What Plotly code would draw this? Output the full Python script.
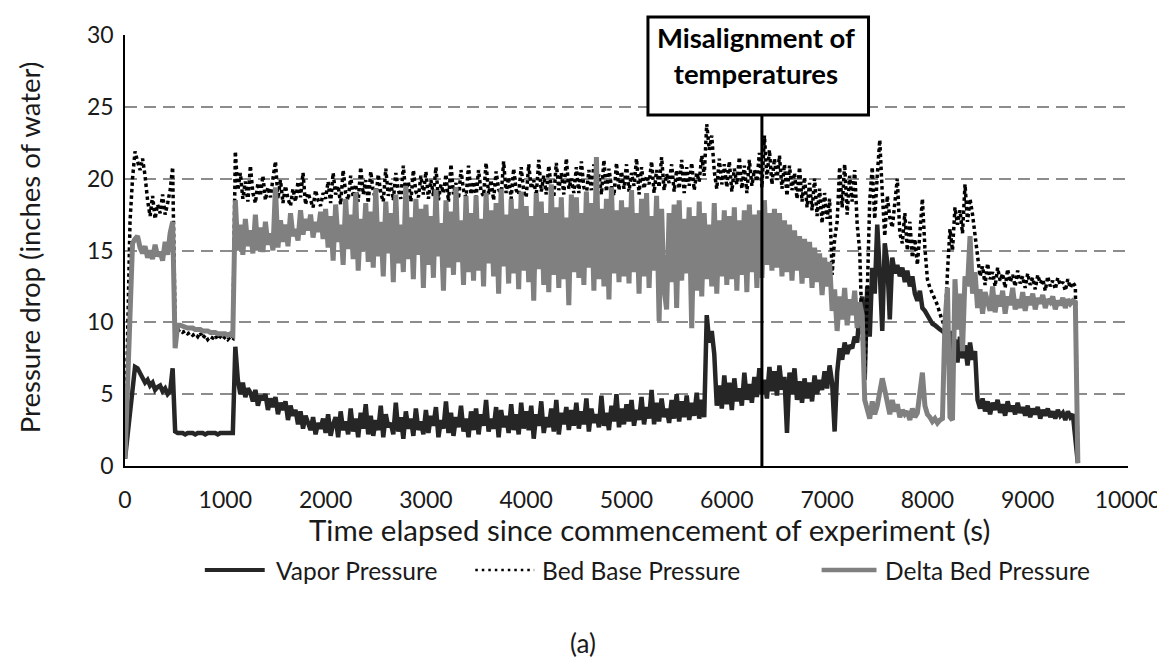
import plotly.graph_objects as go

# time axis (s), 25 s spacing from 0 to 9500
time_s = list(range(0, 9501, 25))

vapor_pressure = [
    0.5, 2.0, 3.5, 5.5, 6.9, 6.8, 6.5, 6.1, 5.8, 6.0,
    5.6, 5.8, 5.3, 5.5, 5.6, 5.2, 5.4, 5.0, 5.2, 6.8,
    2.4, 2.3, 2.3, 2.3, 2.2, 2.3, 2.3, 2.3, 2.2, 2.3,
    2.3, 2.3, 2.2, 2.3, 2.3, 2.3, 2.3, 2.2, 2.3, 2.3,
    2.3, 2.3, 2.3, 2.3, 8.3, 6.0, 5.0, 5.8, 4.8, 5.4,
    5.1, 4.5, 5.3, 4.2, 4.9, 4.6, 5.0, 3.9, 4.7, 4.1,
    4.8, 3.6, 4.4, 3.9, 4.5, 3.2, 4.2, 3.5, 3.9, 2.9,
    3.8, 2.6, 3.5, 3.0, 2.5, 3.4, 2.2, 3.0, 2.6, 3.3,
    2.3, 3.6, 2.1, 2.9, 3.4, 2.0, 3.8, 2.5, 3.1, 2.2,
    4.0, 2.4, 3.3, 2.0, 3.7, 2.6, 4.3, 2.2, 3.5, 2.1,
    3.2, 2.5, 4.2, 2.0, 3.6, 2.7, 3.0, 2.2, 4.4, 2.4,
    3.4, 1.9, 3.8, 2.6, 3.3, 2.1, 4.0, 2.5, 3.1, 2.2,
    3.9, 2.3, 3.5, 2.8, 4.1, 2.0, 3.2, 2.6, 4.5, 2.3,
    3.7, 2.1, 3.4, 2.7, 4.2, 2.4, 3.3, 2.0, 3.8, 2.5,
    4.0, 2.2, 3.6, 2.8, 4.6, 2.4, 3.3, 2.6, 4.1, 2.0,
    3.9, 2.7, 3.5, 2.3, 4.3, 2.5, 3.6, 2.2, 4.4, 2.6,
    3.8, 2.5, 4.2, 1.9, 3.6, 2.8, 4.5, 2.3, 3.4, 2.7,
    4.0, 2.4, 4.6, 2.2, 3.7, 2.9, 4.1, 2.5, 3.9, 2.8,
    4.4, 2.6, 3.8, 2.9, 4.7, 2.4, 4.0, 3.0, 3.6, 2.7,
    4.9, 2.8, 3.7, 2.5, 4.2, 3.1, 5.0, 2.7, 4.0, 2.9,
    4.3, 3.1, 4.6, 2.8, 3.9, 3.2, 4.8, 2.9, 4.1, 3.3,
    5.3, 2.9, 4.4, 3.1, 4.7, 3.4, 4.0, 3.0, 4.6, 3.3,
    5.0, 3.1, 4.5, 3.4, 4.9, 3.2, 4.4, 3.5, 5.1, 3.3,
    4.6, 3.4, 10.5, 8.6, 9.4, 7.8, 4.2, 5.6, 4.0, 6.3,
    4.3, 5.8, 3.9, 6.1, 4.5, 5.4, 4.2, 6.5, 4.6, 5.7,
    4.4, 6.2, 4.8, 6.8, 5.0, 6.0, 4.7, 6.9, 5.2, 6.6,
    4.9, 7.0, 5.3, 6.2, 2.3, 6.5, 5.0, 6.8, 4.6, 5.9,
    4.4, 6.1, 4.7, 5.8, 4.5, 6.3, 5.0, 6.0, 5.3, 6.6,
    5.4, 7.0, 5.8, 2.4, 6.5, 8.2, 7.4, 8.6, 7.8, 8.4,
    8.2, 9.0, 8.6, 10.8, 11.8, 6.0, 12.5, 9.0, 13.8, 12.0,
    16.8, 13.5, 9.4, 15.5, 14.2, 10.2, 14.5, 13.4, 14.0, 13.2,
    13.8, 12.8, 13.6, 12.5, 13.2, 12.0, 11.5, 12.2, 11.0, 10.8,
    10.5, 10.2, 9.9, 9.8, 9.6, 9.5, 9.4, 9.2, 7.6, 9.4,
    7.0, 8.8, 7.2, 9.0, 7.5, 8.4, 7.0, 8.6, 7.4, 8.0,
    4.6, 4.0, 4.7, 3.8, 4.5, 3.6, 4.4, 3.9, 4.6, 3.7,
    4.3, 3.5, 4.5, 3.8, 4.2, 3.6, 4.4, 3.7, 4.1, 3.5,
    4.2, 3.4, 4.0, 3.6, 4.1, 3.3, 3.9, 3.5, 4.0, 3.4,
    3.8, 3.3, 3.9, 3.5, 3.7, 3.2, 3.8, 3.4, 3.6, 2.0,
    0.2,
]

bed_base_pressure = [
    0.5, 10.0, 17.0, 20.0, 21.9, 21.2, 20.6, 21.4, 20.2, 18.5,
    17.4, 18.8, 17.2, 18.2, 17.6, 18.9, 17.5, 18.3, 19.2, 20.8,
    9.6, 9.4, 9.5, 9.3, 9.4, 9.2, 9.3, 9.1, 9.2, 9.0,
    9.3, 8.9, 9.1, 8.8, 9.0, 8.9, 9.1, 8.8, 9.0, 8.8,
    9.0, 8.8, 9.0, 8.9, 21.9, 19.2, 20.4, 18.6, 19.8, 18.4,
    20.9, 19.0, 18.3, 19.7, 18.8, 20.2, 18.5, 19.4, 18.7, 20.0,
    21.2, 18.6, 19.9, 18.3, 19.5, 18.6, 18.1, 19.3, 18.4, 19.8,
    18.7, 20.4, 18.2, 19.0, 18.4, 18.0, 19.2, 18.5, 18.1, 19.0,
    18.6, 19.8, 18.3, 20.4, 18.9, 19.5, 18.2, 20.6, 19.0, 18.5,
    20.2, 18.7, 19.6, 18.4, 20.8, 18.9, 19.9, 18.3, 20.5, 19.1,
    18.6, 20.3, 19.0, 18.4, 20.7, 18.8, 19.7, 18.5, 20.4, 19.2,
    18.6, 20.9, 18.9, 19.8, 18.4, 20.6, 19.1, 18.7, 20.2, 18.9,
    20.5, 18.6, 19.9, 18.8, 20.8, 18.5, 19.6, 19.0, 20.3, 18.4,
    21.0, 18.9, 19.7, 18.6, 20.6, 19.2, 18.7, 20.9, 18.9, 19.8,
    18.7, 20.6, 19.1, 18.8, 21.1, 18.9, 19.9, 18.5, 20.5, 19.3,
    18.8, 21.2, 19.0, 20.1, 18.6, 20.7, 19.2, 18.9, 20.8, 19.1,
    18.7, 21.0, 19.3, 19.9, 18.8, 21.3, 19.1, 20.2, 18.9, 20.9,
    19.4, 18.7, 21.1, 19.2, 20.4, 18.9, 21.4, 19.3, 20.0, 19.0,
    20.8, 19.0, 21.2, 19.4, 18.9, 20.6, 19.2, 21.0, 19.5, 20.3,
    18.9, 21.3, 19.1, 20.7, 19.4, 18.8, 21.1, 19.2, 20.5, 19.3,
    21.0, 19.1, 20.4, 19.5, 21.4, 18.9, 20.8, 19.3, 20.2, 19.6,
    21.2, 19.0, 20.6, 19.4, 21.5, 19.2, 20.3, 19.7, 21.0, 19.1,
    20.6, 19.3, 21.3, 19.0, 20.8, 19.5, 21.1, 19.2, 20.4, 19.8,
    21.6, 20.2, 23.8, 22.0, 23.0, 20.5, 19.3, 21.4, 19.6, 21.0,
    19.4, 21.2, 19.1, 20.7, 19.6, 21.5, 19.3, 20.9, 19.0, 21.3,
    19.5, 20.6, 19.8, 21.8, 19.4, 23.0, 20.0, 22.0, 19.6, 21.4,
    19.9, 21.6, 19.3, 21.0, 18.8, 20.9, 19.2, 20.4, 18.6, 20.8,
    18.4, 20.1, 18.0, 19.7, 17.8, 20.0, 17.4, 19.3, 16.9, 19.0,
    17.2, 18.6, 13.3, 15.8, 17.0, 20.8, 18.0, 21.0, 17.5, 20.2,
    18.4, 20.6, 16.8, 15.0, 9.0, 5.9, 12.0, 18.5, 20.8, 17.2,
    20.2, 22.7, 19.0, 16.0, 18.8, 17.3, 16.6, 18.5, 20.0, 16.2,
    15.5, 17.6, 15.0, 17.0, 14.5, 15.8, 14.0, 16.2, 18.6, 15.2,
    13.0, 12.4, 12.0, 11.6, 11.2, 10.6, 10.0, 9.6, 13.5, 16.5,
    15.0, 18.0, 16.8, 17.8, 16.2, 19.6, 17.0, 18.6, 17.5, 16.0,
    14.3, 13.2, 13.9, 12.6, 14.1, 13.0, 13.5, 12.5, 13.8, 12.9,
    13.4, 12.4, 13.7, 12.8, 13.3, 12.5, 13.6, 12.7, 13.2, 12.4,
    13.4, 12.6, 13.1, 12.3, 13.3, 12.7, 13.0, 12.2, 13.2, 12.5,
    12.9, 12.3, 13.1, 12.6, 12.8, 12.2, 13.0, 12.4, 12.8, 12.5,
    0.3,
]

delta_bed_pressure = [
    0.5, 6.0, 12.0, 15.5, 15.8, 16.0, 15.2, 14.8, 15.3, 14.5,
    15.0, 14.4, 15.4, 14.6, 14.9, 14.3, 15.6, 14.7, 16.2, 17.0,
    8.2, 9.8, 9.8, 9.7, 9.7, 9.6, 9.6, 9.6, 9.5, 9.5,
    9.5, 9.4, 9.4, 9.4, 9.3, 9.3, 9.3, 9.2, 9.2, 9.2,
    9.2, 9.1, 9.2, 9.1, 18.5, 15.0, 16.8, 14.7, 17.2, 15.3,
    16.4, 14.8, 17.5, 15.0, 16.6, 14.9, 17.0, 15.4, 16.2, 15.0,
    19.4, 15.2, 17.1, 15.6, 16.8, 15.3, 17.6, 16.0, 16.5, 15.7,
    17.8, 16.1, 17.2, 16.4, 17.5, 15.9, 17.0, 16.3, 17.7, 15.8,
    17.9, 15.2, 17.4, 14.3, 18.2, 15.6, 16.8, 14.0, 18.6, 15.1,
    17.5, 14.4, 19.0, 13.6, 17.2, 15.0, 18.3, 14.2, 17.7, 13.8,
    19.3, 14.6, 17.0, 13.2, 18.4, 14.8, 17.6, 12.8, 18.9, 14.1,
    16.8, 13.5, 19.5, 14.4, 17.3, 13.0, 18.6, 14.7, 17.9, 12.4,
    18.2, 14.0, 17.4, 13.1, 19.2, 14.6, 16.9, 12.2, 18.5, 13.8,
    17.7, 13.3, 19.4, 14.2, 17.1, 12.6, 18.8, 13.5, 17.6, 12.9,
    18.8, 13.6, 17.2, 12.5, 19.0, 14.1, 17.8, 13.2, 18.3, 12.0,
    19.3, 13.9, 17.5, 12.7, 18.6, 13.4, 17.9, 12.3, 19.1, 13.6,
    18.1, 12.8, 17.4, 11.5, 19.0, 13.7, 18.4, 12.6, 17.6, 12.1,
    19.6, 13.3, 18.0, 12.4, 18.7, 13.0, 17.3, 11.2, 18.9, 13.5,
    18.7, 13.1, 17.6, 12.6, 19.1, 13.8, 18.3, 12.2, 21.5, 13.0,
    17.9, 12.5, 18.6, 11.6, 19.4, 13.4, 17.8, 12.8, 18.5, 13.2,
    18.0, 12.7, 19.2, 13.5, 17.6, 12.0, 18.6, 13.2, 19.0, 12.4,
    17.4, 13.6, 18.8, 10.1, 17.9, 12.3, 10.9, 17.6, 12.8, 18.2,
    11.0, 18.5, 12.9, 17.2, 13.4, 18.0, 9.6, 17.4, 12.2, 18.4,
    11.8, 17.6, 13.0, 16.8, 12.5, 18.3, 12.0, 17.1, 13.2, 17.8,
    12.6, 17.4, 13.0, 18.0, 12.2, 17.1, 13.3, 17.8, 12.1, 18.2,
    13.5, 17.5, 12.4, 17.8, 13.1, 18.5, 14.0, 17.6, 13.6, 17.9,
    13.8, 17.6, 13.2, 17.1, 13.5, 16.8, 12.9, 16.4, 13.6, 16.0,
    12.7, 15.8, 13.1, 15.6, 12.4, 15.2, 12.8, 14.8, 11.9, 14.5,
    12.5, 14.2, 10.8, 12.3, 9.4, 11.8, 10.2, 12.4, 9.8, 11.6,
    10.5, 12.2, 9.6, 11.4, 10.5, 4.6, 3.8, 3.3, 4.5, 3.6,
    4.2, 5.2, 6.1, 5.3, 4.4, 3.6, 4.6, 3.8, 4.3, 3.4,
    3.9, 3.6, 3.8, 3.2, 4.0, 3.4, 3.7, 5.0, 6.5, 4.2,
    3.6, 3.4, 3.1, 3.3, 3.0, 3.2, 3.3, 10.0, 12.4, 3.4,
    3.2, 13.0, 9.5, 12.0, 8.0, 13.2, 12.5, 16.0, 12.0, 13.5,
    11.0, 12.3, 10.6, 12.1, 11.3, 10.8, 12.5, 10.7, 11.9, 11.1,
    12.2, 10.6, 11.8, 11.2, 12.4, 10.9, 11.6, 11.0, 12.1, 10.8,
    11.8, 11.2, 12.0, 10.9, 11.7, 11.3, 11.9, 11.0, 11.6, 11.4,
    11.8, 10.9, 11.5, 11.2, 11.7, 11.0, 11.6, 11.3, 11.5, 11.4,
    0.2,
]

assert len(vapor_pressure) == len(time_s), len(vapor_pressure)
assert len(bed_base_pressure) == len(time_s), len(bed_base_pressure)
assert len(delta_bed_pressure) == len(time_s), len(delta_bed_pressure)

series_names = ["Vapor Pressure", "Bed Base Pressure", "Delta Bed Pressure"]
x_ticks = list(range(0, 10001, 1000))
y_ticks = list(range(0, 31, 5))
event_time = 6350
event_label = "Misalignment of<br>temperatures"
x_title = "Time elapsed since commencement of experiment (s)"
y_title = "Pressure drop (inches of water)"

FONT = "Lato"
TXT = "#1a1a1a"

fig = go.Figure()
fig.add_trace(go.Scatter(x=time_s, y=vapor_pressure, mode="lines", name=series_names[0],
                         line=dict(color="#262626", width=4.5), showlegend=False))
fig.add_trace(go.Scatter(x=time_s, y=bed_base_pressure, mode="lines", name=series_names[1],
                         line=dict(color="#000000", width=3.5, dash="3.5px,3px"), showlegend=False))
fig.add_trace(go.Scatter(x=time_s, y=delta_bed_pressure, mode="lines", name=series_names[2],
                         line=dict(color="#808080", width=5), showlegend=False))

W, H = 1165, 664
L, R, T, B = 117, 43, 27, 206
pw, ph = W - L - R, H - T - B


def px(xp):
    return (xp - L) / pw


def py(yp):
    return (H - B - yp) / ph


shapes = []
annotations = []

# event line and box
box_bottom = py(107)
shapes.append(dict(type="line", xref="x", yref="paper", x0=event_time, x1=event_time,
                   y0=0, y1=box_bottom, line=dict(color="black", width=3), layer="above"))
shapes.append(dict(type="rect", xref="paper", yref="paper", x0=px(641), x1=px(862),
                   y0=box_bottom, y1=py(9), line=dict(color="black", width=3),
                   fillcolor="white", layer="above"))
annotations.append(dict(xref="paper", yref="paper", x=px(749), y=py(47), text="<b>" + event_label + "</b>",
                        showarrow=False, xanchor="center", yanchor="middle",
                        font=dict(family=FONT, size=27.5, color="black")))

# axis titles
annotations.append(dict(xref="paper", yref="paper", x=px(643), y=py(521), text=x_title,
                        showarrow=False, xanchor="center", yanchor="middle",
                        font=dict(family=FONT, size=29.5, color=TXT)))
annotations.append(dict(xref="paper", yref="paper", x=px(21), y=py(240), text=y_title,
                        showarrow=False, xanchor="center", yanchor="middle", textangle=-90,
                        font=dict(family=FONT, size=27.5, color=TXT)))

# manual legend
leg_y = py(562)
legend_items = [
    (197, 257, 266, dict(color="#262626", width=4), series_names[0]),
    (468, 527, 533, dict(color="#000000", width=2.5, dash="2.5px,4px"), series_names[1]),
    (815, 870, 877, dict(color="#808080", width=4.5), series_names[2]),
]
for x0, x1, xt, ln, name in legend_items:
    shapes.append(dict(type="line", xref="paper", yref="paper", x0=px(x0), x1=px(x1),
                       y0=leg_y, y1=leg_y, line=ln))
    annotations.append(dict(xref="paper", yref="paper", x=px(xt), y=leg_y, text=name,
                            showarrow=False, xanchor="left", yanchor="middle",
                            font=dict(family=FONT, size=24.5, color=TXT)))

annotations.append(dict(xref="paper", yref="paper", x=px(576), y=py(635), text="(a)",
                        showarrow=False, xanchor="center", yanchor="middle",
                        font=dict(family=FONT, size=26, color=TXT)))

fig.update_layout(
    width=W, height=H,
    margin=dict(l=L, r=R, t=T, b=B),
    paper_bgcolor="white", plot_bgcolor="white",
    font=dict(family=FONT, color=TXT),
    shapes=shapes, annotations=annotations,
    showlegend=False,
)
fig.update_xaxes(range=[0, 10000], tickvals=x_ticks, tickformat="d", ticks="", showgrid=False,
                 zeroline=False, showline=True, linecolor="black", linewidth=2,
                 ticklabelstandoff=12,
                 tickfont=dict(family=FONT, size=23, color=TXT))
fig.update_yaxes(range=[0, 30], tickvals=y_ticks, ticks="", showgrid=True, gridcolor="#8c8c8c",
                 gridwidth=2, griddash="12px,7px", zeroline=False,
                 showline=True, linecolor="black", linewidth=1.5,
                 ticklabelstandoff=5,
                 tickfont=dict(family=FONT, size=23, color=TXT))

fig.write_html("out.html")
